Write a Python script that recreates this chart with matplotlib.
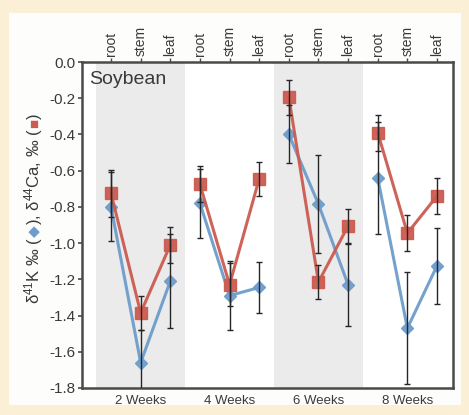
import numpy as np
import matplotlib.pyplot as plt
from matplotlib.patches import Rectangle

plt.rcParams["font.family"] = ["Liberation Sans", "DejaVu Sans"]
plt.rcParams["mathtext.default"] = "regular"

# === data: δ41K (diamonds) and δ44Ca (squares), root / stem / leaf per harvest ===
weeks = ["2 Weeks", "4 Weeks", "6 Weeks", "8 Weeks"]
organs = ["root", "stem", "leaf"]

k_mean = [[-0.80, -1.66, -1.21],
          [-0.78, -1.29, -1.245],
          [-0.40, -0.785, -1.23],
          [-0.64, -1.47, -1.125]]
k_err = [[0.19, 0.18, 0.26],
         [0.19, 0.19, 0.14],
         [0.16, 0.27, 0.225],
         [0.31, 0.31, 0.21]]

ca_mean = [[-0.725, -1.385, -1.01],
           [-0.675, -1.23, -0.645],
           [-0.195, -1.215, -0.905],
           [-0.39, -0.945, -0.74]]
ca_err = [[0.13, 0.095, 0.10],
          [0.10, 0.12, 0.095],
          [0.095, 0.095, 0.095],
          [0.10, 0.10, 0.10]]

y_ticks = [-1.8, -1.6, -1.4, -1.2, -1.0, -0.8, -0.6, -0.4, -0.2, 0.0]
y_ticklabels = ["-1.8", "-1.6", "-1.4", "-1.2", "-1.0", "-0.8", "-0.6", "-0.4", "-0.2", "0.0"]

k_color = "#6e9ccb"
ca_color = "#cc5b50"
cream = "#fbefd6"
spine_color = "#4a4a4a"
text_color = "#3a3a3a"

fig = plt.figure(figsize=(4.69, 4.15), dpi=100, facecolor=cream)
# white panel inside the cream frame
fig.patches.append(Rectangle((0.019, 0.024), 0.964, 0.945, transform=fig.transFigure,
                             facecolor="#fdfdfc", edgecolor="none", zorder=-5))

ax = fig.add_axes([0.1748, 0.0651, 0.7911, 0.7855])
ax.set_facecolor("white")

# shaded bands behind 2 and 6 weeks
for g in (0, 2):
    ax.axvspan(g * 3 + 0.5, g * 3 + 3.5, color="#ebebeb", lw=0, zorder=0)

for g in range(len(weeks)):
    x = np.arange(3) + 1 + g * 3
    ax.plot(x, k_mean[g], color=k_color, lw=2.2, marker="D", ms=6,
            mec=k_color, zorder=3, alpha=0.95)
    ax.plot(x, ca_mean[g], color=ca_color, lw=2.2, marker="s", ms=8,
            mec=ca_color, zorder=4, alpha=0.95)
    ax.errorbar(x, k_mean[g], yerr=k_err[g], fmt="none", ecolor="#262626",
                elinewidth=1.0, capsize=2.5, capthick=1.0, zorder=5)
    ax.errorbar(x, ca_mean[g], yerr=ca_err[g], fmt="none", ecolor="#262626",
                elinewidth=1.0, capsize=2.5, capthick=1.0, zorder=5)

ax.set_xlim(0.02, 12.54)
ax.set_ylim(-1.8, 0.0)
ax.set_yticks(y_ticks)
ax.set_yticklabels(y_ticklabels)
ax.tick_params(axis="y", direction="out", length=3, width=1.2, color=spine_color,
               labelsize=11, labelcolor=text_color, pad=1.5)

# organ labels along the top
ax.xaxis.tick_top()
ax.set_xticks(np.arange(1, 13))
ax.set_xticklabels(organs * len(weeks), rotation=90, fontsize=10, color=text_color)
ax.tick_params(axis="x", direction="out", length=3, width=1.0, color=spine_color, pad=1)

# harvest labels along the bottom
sec = ax.secondary_xaxis("bottom")
sec.set_xticks([2, 5, 8, 11])
sec.set_xticklabels(weeks, fontsize=9.5, color=text_color)
sec.tick_params(length=0, pad=5)
sec.spines["bottom"].set_visible(False)

for sp in ax.spines.values():
    sp.set_color(spine_color)
    sp.set_linewidth(1.8)

ax.text(0.019, 0.972, "Soybean", transform=ax.transAxes, fontsize=14,
        color=text_color, ha="left", va="top")

# y label built from pieces so the symbols can carry the series colours
pieces = [("δ$^{41}$K ‰ (", text_color, 12), ("◆", k_color, 11),
          ("), δ$^{44}$Ca, ‰ (", text_color, 12), ("■", ca_color, 11),
          (")", text_color, 12)]
prev = fig.text(0.083, 0.268, "", rotation=90, rotation_mode="anchor",
                ha="left", va="baseline")
for s, c, size in pieces:
    prev = ax.annotate(s, xy=(0.083, 1.0), xycoords=("figure fraction", prev),
                       rotation=90, rotation_mode="anchor", ha="left", va="baseline",
                       fontsize=size, color=c, annotation_clip=False)

fig.savefig("out.png", dpi=100, facecolor=cream)
